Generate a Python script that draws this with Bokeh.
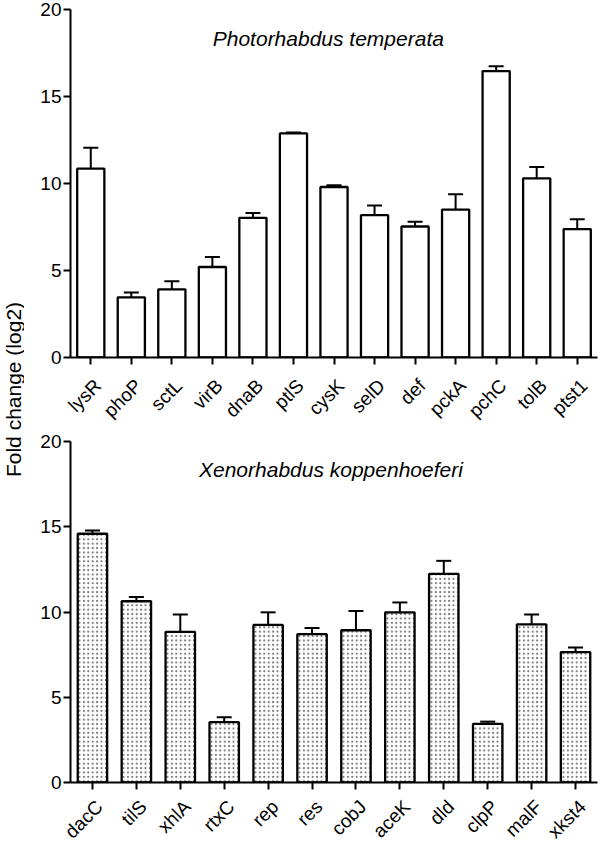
import math
from bokeh.plotting import figure
from bokeh.models import (ColumnDataSource, Range1d, FixedTicker,
                          Whisker, TeeHead, Label, LinearAxis)
from bokeh.layouts import row, column
from bokeh.embed import file_html
from bokeh.resources import INLINE
from bokeh.core.properties import value

# ---- data ----
genes_pt = ["lysR", "phoP", "sctL", "virB", "dnaB", "ptlS", "cysK", "selD",
            "def", "pckA", "pchC", "tolB", "ptst1"]
fold_pt = [10.85, 3.46, 3.92, 5.20, 8.03, 12.88, 9.80, 8.18, 7.53, 8.50, 16.46, 10.30, 7.38]
err_pt = [1.20, 0.27, 0.46, 0.57, 0.27, 0.05, 0.10, 0.55, 0.27, 0.88, 0.28, 0.65, 0.57]

genes_xk = ["dacC", "tilS", "xhlA", "rtxC", "rep", "res", "cobJ", "aceK",
            "dld", "clpP", "malF", "xkst4"]
fold_xk = [14.59, 10.63, 8.84, 3.54, 9.24, 8.70, 8.93, 9.98, 12.24, 3.44, 9.28, 7.65]
err_xk = [0.19, 0.25, 1.01, 0.29, 0.74, 0.36, 1.13, 0.58, 0.76, 0.13, 0.57, 0.27]

y_ticks = [0, 5, 10, 15, 20]
title_pt = "Photorhabdus temperata"
title_xk = "Xenorhabdus koppenhoeferi"
y_label = "Fold change (log2)"

FONT = "Liberation Sans"
LAB_W = 24
BORDER_L = 70 - LAB_W
BORDER_R = 3
FIG_W = 600 - LAB_W
LABEL_SHIFT_PX = 7   # category labels sit slightly right of their tick


def make_panel(genes, vals, errs, title, title_x, hatched, height,
               border_top, border_bottom, standoff):
    n = len(genes)
    idx = list(range(n))
    src = ColumnDataSource(dict(pos=idx, gene=genes, val=vals,
                                hi=[v + e for v, e in zip(vals, errs)]))
    p = figure(x_range=Range1d(-0.5, n - 0.5),
               y_range=Range1d(0, 20), width=FIG_W, height=height,
               output_backend="svg", toolbar_location=None,
               min_border_left=BORDER_L, min_border_right=BORDER_R,
               min_border_top=border_top, min_border_bottom=border_bottom)
    p.outline_line_color = None
    p.xgrid.visible = False
    p.ygrid.visible = False
    p.background_fill_color = "white"
    p.border_fill_color = "white"

    kw = dict(x="pos", top="val", width=0.67, source=src,
              fill_color="white", line_color="black", line_width=2.3)
    if hatched:
        kw.update(hatch_pattern="dot", hatch_scale=4.4, hatch_color="#7a7a7a",
                  hatch_weight=1.0)
    p.vbar(**kw)

    w = Whisker(base="pos", lower="val", upper="hi", source=src,
                line_color="black", line_width=2,
                upper_head=TeeHead(size=15, line_width=2, line_color="black"),
                lower_head=None)
    p.add_layout(w)

    p.add_layout(Label(x=title_x, y=18.35, text=title, text_font=FONT,
                       text_font_size="21px", text_font_style="italic",
                       text_align="center", text_baseline="middle",
                       text_color="black"))

    for ax in (p.xaxis[0], p.yaxis[0]):
        ax.axis_line_width = 2
        ax.axis_line_color = "black"
        ax.major_tick_line_width = 2
        ax.major_tick_line_color = "black"
        ax.major_tick_out = 7
        ax.major_tick_in = 0
        ax.minor_tick_out = 0
        ax.minor_tick_in = 0
        ax.minor_tick_line_color = None
        ax.major_label_text_font = FONT
        ax.major_label_text_color = "black"
    p.yaxis.ticker = FixedTicker(ticks=y_ticks)
    p.yaxis.major_label_text_font_size = "19px"
    p.yaxis.major_label_standoff = 2
    # primary axis: line + ticks only
    p.xaxis.ticker = FixedTicker(ticks=idx)
    p.xaxis.major_label_text_color = None
    p.xaxis.major_label_text_font_size = "1px"
    p.xaxis.major_label_standoff = 0

    # label-only axis, offset a few pixels right of the ticks
    frame_w = FIG_W - BORDER_L - BORDER_R
    s = LABEL_SHIFT_PX / (frame_w / n)
    p.extra_x_ranges = {"lab": Range1d(-0.5 - s, n - 0.5 - s)}
    lab_ax = LinearAxis(x_range_name="lab",
                        ticker=FixedTicker(ticks=idx),
                        major_label_overrides={i: g for i, g in enumerate(genes)},
                        axis_line_color=None, major_tick_line_color=None,
                        minor_tick_line_color=None,
                        major_tick_out=0, major_tick_in=0,
                        minor_tick_out=0, minor_tick_in=0,
                        major_label_orientation=math.pi / 4,
                        major_label_standoff=standoff,
                        major_label_text_font=FONT,
                        major_label_text_font_size="19px",
                        major_label_text_color="black")
    p.add_layout(lab_ax, "below")
    return p


top = make_panel(genes_pt, fold_pt, err_pt, title_pt, 5.86, False,
                 431, 9, 74, 18)
bottom = make_panel(genes_xk, fold_xk, err_xk, title_xk, 5.43, True,
                    421, 10, 70, 14)

total_h = top.height + bottom.height
lab = figure(width=LAB_W, height=total_h, x_range=Range1d(0, 1),
             y_range=Range1d(0, total_h), output_backend="svg",
             toolbar_location=None, min_border=0)
lab.axis.visible = False
lab.grid.visible = False
lab.outline_line_color = None
lab.text(x=[0.55], y=[total_h - 389], text=[y_label], angle=math.pi / 2,
         text_font=value(FONT), text_font_size="21px", text_align="center",
         text_baseline="middle", text_color="black")

layout = row(lab, column(top, bottom, spacing=0), spacing=0)
open("out.html", "w").write(file_html(layout, INLINE))
